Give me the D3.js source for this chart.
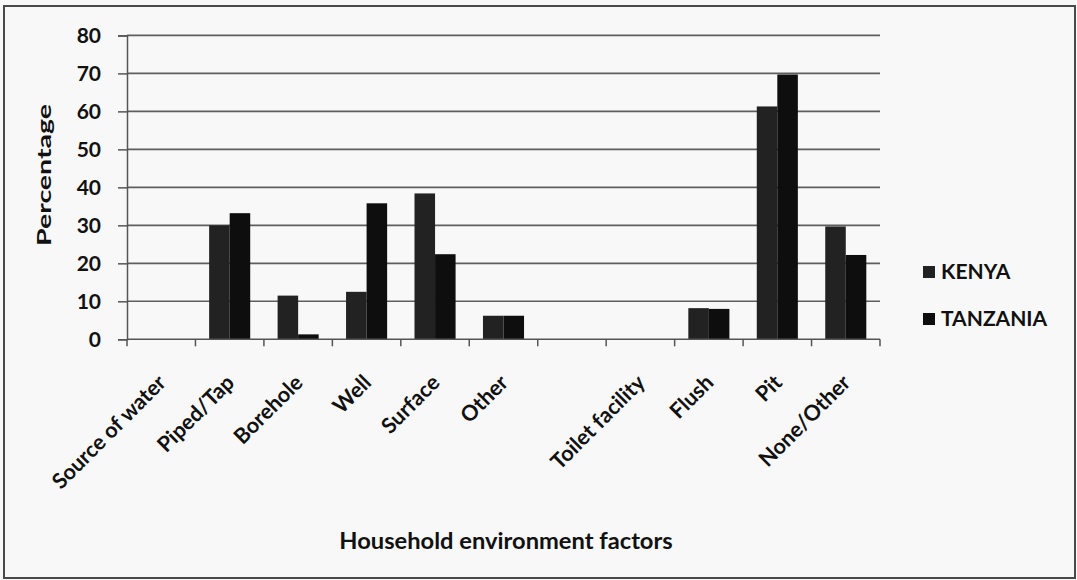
<!DOCTYPE html>
<html>
<head>
<meta charset="utf-8">
<script src="https://cdn.jsdelivr.net/npm/d3@7"></script>
<style>
  html, body { margin: 0; padding: 0; background: #f8f8f8; }
  svg { display: block; }
  text { font-family: Lato, "Open Sans", sans-serif; font-weight: 700; fill: #111; }
</style>
</head>
<body>
<svg id="chart" width="1077" height="580"></svg>
<script>
// Household environment factors by country (percentage of households)
const categories = ["Source of water", "Piped/Tap", "Borehole", "Well", "Surface", "Other",
                    "", "Toilet facility", "Flush", "Pit", "None/Other"];
const seriesNames = ["KENYA", "TANZANIA"];
const kenya    = [null, 30.0, 11.5, 12.5, 38.4, 6.2, null, null, 8.2, 61.3, 29.7];
const tanzania = [null, 33.2,  1.3, 35.8, 22.4, 6.2, null, null, 8.0, 69.7, 22.2];
const yTicks = [0, 10, 20, 30, 40, 50, 60, 70, 80];
const seriesColors = ["#222222", "#0e0e0e"];

const svg = d3.select("#chart");

// outer frame
svg.append("rect")
  .attr("x", 4).attr("y", 6).attr("width", 1071).attr("height", 572)
  .attr("fill", "#f8f8f8").attr("stroke", "#4a4a4a").attr("stroke-width", 2);

const plot = { left: 127, right: 880, top: 35.4, bottom: 339.3 };

const x = d3.scaleBand().domain(categories).range([plot.left, plot.right]);
const bw = x.bandwidth();
const xs = d3.scaleBand().domain(seriesNames).range([bw * 0.2, bw * 0.8]);
const y = d3.scaleLinear().domain([0, 80]).range([plot.bottom, plot.top]);

// horizontal gridlines
svg.append("g")
  .selectAll("line").data(yTicks.filter(t => t > 0)).join("line")
  .attr("x1", plot.left).attr("x2", plot.right)
  .attr("y1", d => y(d)).attr("y2", d => y(d))
  .attr("stroke", "#5e5e5e").attr("stroke-width", 1.6);

// y axis
const yAxis = svg.append("g")
  .attr("transform", `translate(${plot.left},0)`)
  .call(d3.axisLeft(y).tickValues(yTicks).tickSize(9).tickPadding(17));
yAxis.select(".domain").attr("stroke", "#555").attr("stroke-width", 1.5);
yAxis.selectAll(".tick line").attr("stroke", "#555").attr("stroke-width", 1.5);
yAxis.selectAll(".tick text")
  .style("font-family", "Lato, sans-serif").style("font-weight", 700)
  .style("font-size", "21px").attr("fill", "#111");

// bars
const rows = categories.map((c, i) => ({ c, vals: [kenya[i], tanzania[i]] }));
const groups = svg.append("g").selectAll("g").data(rows).join("g")
  .attr("transform", d => `translate(${x(d.c)},0)`);
groups.selectAll("rect")
  .data(d => d.vals.map((v, j) => ({ s: seriesNames[j], v, j })).filter(e => e.v != null))
  .join("rect")
  .attr("x", e => xs(e.s))
  .attr("width", xs.bandwidth())
  .attr("y", e => y(e.v))
  .attr("height", e => y(0) - y(e.v))
  .attr("fill", e => seriesColors[e.j]);

// x axis line and category boundary ticks
const xAxis = svg.append("g").attr("transform", `translate(0,${plot.bottom})`);
xAxis.append("line")
  .attr("x1", plot.left).attr("x2", plot.right)
  .attr("stroke", "#555").attr("stroke-width", 1.5);
const bounds = categories.map(c => x(c)).concat([plot.right]);
xAxis.selectAll("line.tk").data(bounds).join("line").attr("class", "tk")
  .attr("x1", d => d).attr("x2", d => d).attr("y1", 0).attr("y2", 7)
  .attr("stroke", "#555").attr("stroke-width", 1.5);

// rotated category labels
svg.append("g").selectAll("text").data(categories).join("text")
  .attr("transform", c => `translate(${x(c) + bw / 2 + 6},384) rotate(-45)`)
  .attr("text-anchor", "end")
  .style("font-size", "21.5px")
  .text(c => c);

// axis titles
svg.append("text")
  .attr("transform", "translate(51,175) rotate(-90)")
  .attr("text-anchor", "middle")
  .style("font-size", "18px")
  .attr("textLength", 142)
  .attr("lengthAdjust", "spacingAndGlyphs")
  .text("Percentage");

svg.append("text")
  .attr("x", 506).attr("y", 549)
  .attr("text-anchor", "middle")
  .style("font-size", "23.7px")
  .text("Household environment factors");

// legend
const legend = svg.append("g").selectAll("g").data(seriesNames).join("g")
  .attr("transform", (d, i) => `translate(923,${266 + i * 47})`);
legend.append("rect")
  .attr("width", 12).attr("height", 12)
  .attr("fill", (d, i) => seriesColors[i]);
legend.append("text")
  .attr("x", 18).attr("y", 6).attr("dy", "0.35em")
  .style("font-size", "21px")
  .text(d => d);
</script>
</body>
</html>
